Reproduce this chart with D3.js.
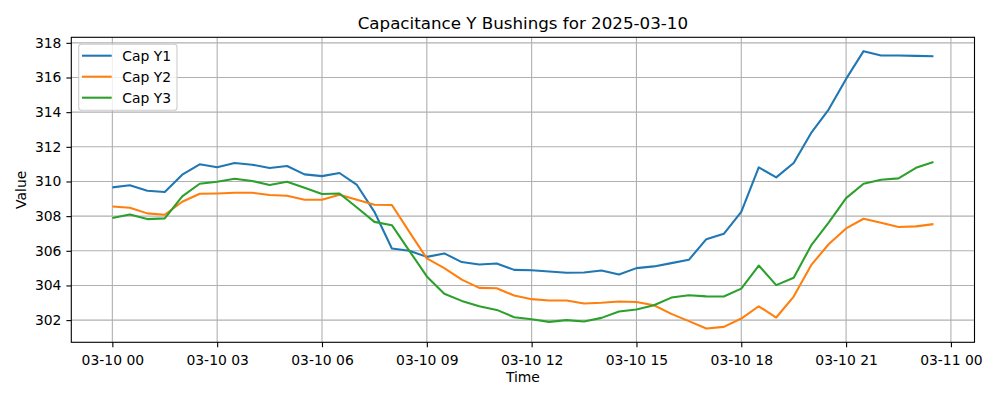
<!DOCTYPE html>
<html><head><meta charset="utf-8">
<script src="https://cdn.jsdelivr.net/npm/d3@7"></script>
<style>body{margin:0;background:#fff}svg{display:block;font-family:"DejaVu Sans",sans-serif}</style>
</head><body><svg id="c" width="1000" height="400"></svg>
<script>
const seriesNames = ["Cap Y1", "Cap Y2", "Cap Y3"];
const seriesColors = ["#1f77b4", "#ff7f0e", "#2ca02c"];
const startTime = "2025-03-10T00:00:00";
const stepMinutes = 30;
const capY1 = [309.66,309.78,309.47,309.39,310.39,310.99,310.82,311.07,310.97,310.78,310.89,310.41,310.31,310.49,309.80,308.25,
  306.13,306.00,305.65,305.85,305.35,305.21,305.27,304.90,304.88,304.81,304.73,304.75,304.86,304.63,305.00,305.10,
  305.29,305.48,306.67,306.98,308.25,310.81,310.24,311.07,312.80,314.15,315.92,317.52,317.27,317.27,317.25,317.23];
const capY2 = [308.56,308.48,308.16,308.08,308.83,309.29,309.31,309.35,309.35,309.22,309.18,308.95,308.95,309.24,308.95,308.66,
  308.64,307.09,305.56,305.00,304.34,303.86,303.84,303.42,303.21,303.13,303.13,302.96,303.00,303.07,303.05,302.86,
  302.36,301.94,301.52,301.61,302.09,302.80,302.15,303.36,305.17,306.38,307.29,307.85,307.62,307.37,307.41,307.54];
const capY3 = [307.89,308.10,307.83,307.87,309.14,309.87,309.98,310.16,310.03,309.80,309.98,309.64,309.28,309.31,308.50,307.67,
  307.48,306.00,304.52,303.52,303.11,302.80,302.59,302.17,302.05,301.90,302.00,301.92,302.13,302.50,302.61,302.86,
  303.30,303.44,303.37,303.36,303.82,305.15,304.02,304.44,306.31,307.62,309.04,309.87,310.10,310.18,310.79,311.12];
const yTicks = [302,304,306,308,310,312,314,316,318];
const xTickHours = [0,3,6,9,12,15,18,21,24];

const series = [capY1, capY2, capY3];
const t0 = new Date(startTime);
const times = capY1.map((_, i) => new Date(t0.getTime() + i * stepMinutes * 60000));

const svg = d3.select("#c");
const m = {left: 71.3, right: 974.5, top: 37.3, bottom: 342.3};

const tMin = times[0], tMax = times[times.length - 1];
const tPad = (tMax - tMin) * 0.05;
const x = d3.scaleTime().domain([new Date(+tMin - tPad), new Date(+tMax + tPad)]).range([m.left, m.right]);
const all = series.flat();
const vMin = d3.min(all), vMax = d3.max(all), vPad = (vMax - vMin) * 0.05;
const y = d3.scaleLinear().domain([vMin - vPad, vMax + vPad]).range([m.bottom, m.top]);

const xTicks = xTickHours.map(h => new Date(t0.getTime() + h * 3600000));
const fmt = d3.timeFormat("%m-%d %H");

// grid
const g = svg.append("g");
g.selectAll(".gx").data(xTicks).enter().append("line")
  .attr("x1", d => x(d)).attr("x2", d => x(d)).attr("y1", m.top).attr("y2", m.bottom)
  .attr("stroke", "#b0b0b0").attr("stroke-width", 1.1);
g.selectAll(".gy").data(yTicks).enter().append("line")
  .attr("x1", m.left).attr("x2", m.right).attr("y1", d => y(d)).attr("y2", d => y(d))
  .attr("stroke", "#b0b0b0").attr("stroke-width", 1.1);

// lines
const line = d3.line().x((d, i) => x(times[i])).y(d => y(d));
series.forEach((s, k) => {
  svg.append("path").datum(s).attr("d", line).attr("fill", "none")
    .attr("stroke", seriesColors[k]).attr("stroke-width", 2.08).attr("stroke-linejoin", "round").attr("stroke-linecap", "butt");
});

// axes
const xAxis = d3.axisBottom(x).tickValues(xTicks).tickFormat(fmt).tickSizeOuter(0).tickSize(4.9).tickPadding(5);
const yAxis = d3.axisLeft(y).tickValues(yTicks).tickFormat(d3.format("d")).tickSizeOuter(0).tickSize(4.9).tickPadding(5);
const ax = svg.append("g").attr("transform", `translate(0,${m.bottom})`).call(xAxis);
const ay = svg.append("g").attr("transform", `translate(${m.left},0)`).call(yAxis);
[ax, ay].forEach(a => {
  a.select(".domain").remove();
  a.selectAll(".tick line").attr("stroke", "#000").attr("stroke-width", 1.1);
  a.selectAll(".tick text").attr("fill", "#000").style("font-size", "13.9px").style("font-family", "DejaVu Sans");
});
ax.selectAll(".tick text").attr("dy", "0.95em");

// frame
svg.append("rect").attr("x", m.left).attr("y", m.top).attr("width", m.right - m.left).attr("height", m.bottom - m.top)
  .attr("fill", "none").attr("stroke", "#000").attr("stroke-width", 1.1);

// title and labels
svg.append("text").attr("x", (m.left + m.right) / 2).attr("y", 28.5).attr("text-anchor", "middle")
  .style("font-size", "16.7px").text("Capacitance Y Bushings for 2025-03-10");
svg.append("text").attr("x", (m.left + m.right) / 2).attr("y", 382).attr("text-anchor", "middle")
  .style("font-size", "13.9px").text("Time");
svg.append("text").attr("transform", `translate(25.5,${(m.top + m.bottom) / 2}) rotate(-90)`).attr("text-anchor", "middle")
  .style("font-size", "13.9px").text("Value");

// legend
const lg = svg.append("g");
lg.append("rect").attr("x", 78.7).attr("y", 44.3).attr("width", 98.3).attr("height", 66).attr("rx", 2.8)
  .attr("fill", "#fff").attr("fill-opacity", 0.8).attr("stroke", "#cccccc").attr("stroke-width", 1.1);
seriesNames.forEach((n, k) => {
  const yy = 55.7 + k * 21;
  lg.append("line").attr("x1", 82).attr("x2", 111.7).attr("y1", yy).attr("y2", yy)
    .attr("stroke", seriesColors[k]).attr("stroke-width", 2.08);
  lg.append("text").attr("x", 122.3).attr("y", yy).attr("dy", "0.36em").style("font-size", "13.9px").text(n);
});
</script></body></html>
